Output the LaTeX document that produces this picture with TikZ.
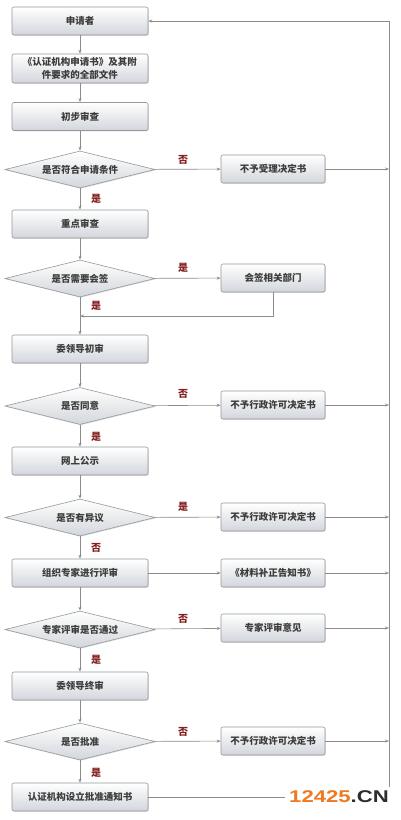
\documentclass[tikz,border=0pt]{standalone}
\usepackage{fontspec}
\usepackage{graphicx}
\setmainfont{Liberation Sans}
\newfontfamily\cjk{Noto Sans CJK SC}
\usetikzlibrary{shapes.geometric,arrows.meta,shadows,calc}
\definecolor{linec}{RGB}{140,140,140}
\definecolor{bordc}{RGB}{150,152,156}
\definecolor{botc}{RGB}{210,214,219}
\definecolor{txtc}{RGB}{60,60,60}
\definecolor{lblc}{RGB}{135,30,30}
\definecolor{wmorange}{RGB}{240,120,32}
\definecolor{wmdark}{RGB}{45,45,45}
\begin{document}
\begin{tikzpicture}[x=1pt,y=-1pt,
  base/.style={draw=bordc, line width=0.6pt, top color=white, bottom color=botc,
    font=\cjk\fontsize{9.5}{12.5}\selectfont\bfseries, text=txtc,
    drop shadow={opacity=0.25, shadow xshift=0.8pt, shadow yshift=-0.8pt}},
  mbox/.style={base, rounded corners=2pt, minimum width=136pt, minimum height=28pt, inner sep=1pt, align=center},
  rbox/.style={base, rounded corners=2pt, minimum width=104pt, minimum height=28pt, inner sep=1pt},
  dia/.style={base, diamond, aspect=4.05, minimum width=150pt, minimum height=37pt, inner sep=0pt},
  arr/.style={draw=linec, line width=0.6pt, -{Stealth[length=4pt,width=3pt]}},
  ln/.style={draw=linec, line width=0.6pt},
  lbl/.style={font=\cjk\fontsize{10}{12}\selectfont\bfseries, text=lblc, inner sep=0pt}
]
\useasboundingbox (0,0) rectangle (400,820);
\fill[white] (0,0) rectangle (400,820);

% main column
\node[mbox] (a1) at (80,21) {申请者};
\node[mbox, minimum height=29pt] (a2) at (80,68.5) {《认证机构申请书》及其附\\件要求的全部文件};
\node[mbox] (a3) at (80,116.5) {初步审查};
\node[dia] (d1) at (80,169.5) {是否符合申请条件};
\node[mbox] (b1) at (80,224) {重点审查};
\node[dia] (d2) at (80,278.5) {是否需要会签};
\node[mbox] (b3) at (80,349) {委领导初审};
\node[dia] (d3) at (80,406) {是否同意};
\node[mbox] (b4) at (80,461) {网上公示};
\node[dia] (d4) at (80,517.5) {是否有异议};
\node[mbox] (b5) at (80,573) {组织专家进行评审};
\node[dia] (d5) at (80,629.5) {专家评审是否通过};
\node[mbox] (b6) at (80,686) {委领导终审};
\node[dia] (d6) at (80,741.5) {是否批准};
\node[mbox] (b7) at (80,797) {认证机构设立批准通知书};

% right column
\node[rbox] (r1) at (273,169) {不予受理决定书};
\node[rbox] (r2) at (273,278) {会签相关部门};
\node[rbox] (r3) at (273,405) {不予行政许可决定书};
\node[rbox] (r4) at (273,517) {不予行政许可决定书};
\node[rbox] (r5) at (273,573) {《材料补正告知书》};
\node[rbox] (r6) at (273,628) {专家评审意见};
\node[rbox] (r7) at (273,741) {不予行政许可决定书};

\coordinate (rt) at (389,21);
\coordinate (rb) at (389,797.5);
\coordinate (jn) at (80,316);

% vertical flow
\draw[arr] (a1) -- (a2);
\draw[arr] (a2) -- (a3);
\draw[arr] (a3) -- (d1);
\draw[arr] (d1) -- (b1);
\draw[arr] (b1) -- (d2);
\draw[arr] (d2) -- (b3);
\draw[arr] (b3) -- (d3);
\draw[arr] (d3) -- (b4);
\draw[arr] (b4) -- (d4);
\draw[arr] (d4) -- (b5);
\draw[arr] (b5) -- (d5);
\draw[arr] (d5) -- (b6);
\draw[arr] (b6) -- (d6);
\draw[arr] (d6) -- (b7);

% side branches
\draw[arr] (d1) -- (r1);
\draw[arr] (d2) -- (r2);
\draw[arr] (d3) -- (r3);
\draw[arr] (d4) -- (r4);
\draw[arr] (b5) -- (r5);
\draw[arr] (d5) -- (r6);
\draw[arr] (d6) -- (r7);

% return from 会签
\draw[arr] (r2.south) |- (jn);

% to the right return line
\draw[arr] (r1) -- (r1 -| rt);
\draw[arr] (r3) -- (r3 -| rt);
\draw[arr] (r4) -- (r4 -| rt);
\draw[arr] (r5) -- (r5 -| rt);
\draw[arr] (r6) -- (r6 -| rt);
\draw[arr] (r7) -- (r7 -| rt);
\draw[arr] (b7.east |- rb) -- (rb) -- (rt) -- (a1.east);

% labels
\node[lbl] (l1) at (183,160) {否};
\node[lbl] (l2) at (96,199) {是};
\node[lbl] (l3) at (183,268) {是};
\node[lbl] (l4) at (96,306) {是};
\node[lbl] (l5) at (183,394) {否};
\node[lbl] (l6) at (96,437) {是};
\node[lbl] (l7) at (183,507) {是};
\node[lbl] (l8) at (96,548) {否};
\node[lbl] (l9) at (183,619) {否};
\node[lbl] (l10) at (96,660) {是};
\node[lbl] (l11) at (183,732) {否};
\node[lbl] (l12) at (96,773) {是};

% watermark
\node[fill=white, inner xsep=4pt, inner ysep=4pt, font=\fontsize{17}{18}\selectfont\bfseries] (wm) at (339,797)
  {\scalebox{1.3}[1]{\textcolor{wmorange}{12425}\textcolor{wmdark}{.CN}}};
\end{tikzpicture}
\end{document}
